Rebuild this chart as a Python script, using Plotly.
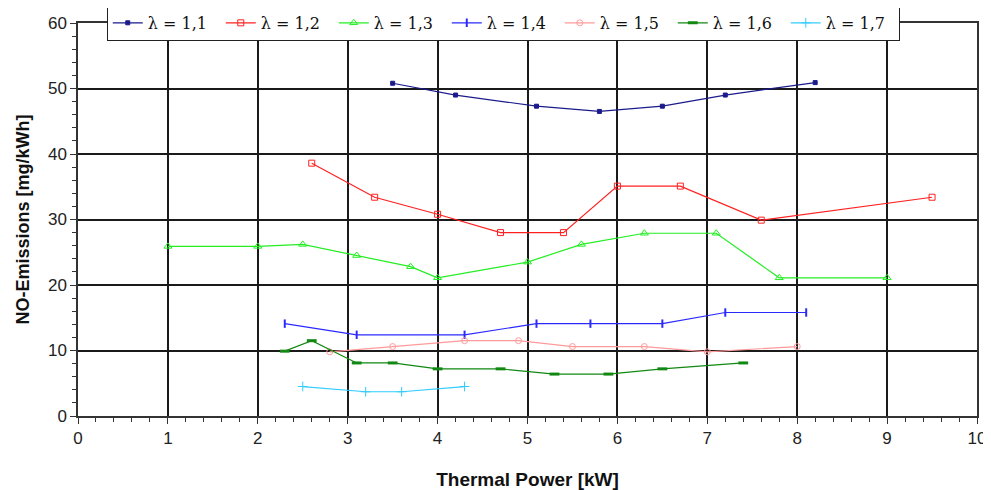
import plotly.graph_objects as go

x11 = [3.5, 4.2, 5.1, 5.8, 6.5, 7.2, 8.2]
y11 = [50.8, 49.0, 47.3, 46.5, 47.3, 49.0, 50.9]

x12 = [2.6, 3.3, 4.0, 4.7, 5.4, 6.0, 6.7, 7.6, 9.5]
y12 = [38.6, 33.4, 30.8, 28.0, 28.0, 35.1, 35.1, 29.9, 33.4]

x13 = [1.0, 2.0, 2.5, 3.1, 3.7, 4.0, 5.0, 5.6, 6.3, 7.1, 7.8, 9.0]
y13 = [25.9, 25.9, 26.2, 24.5, 22.8, 21.1, 23.5, 26.2, 27.9, 27.9, 21.1, 21.1]

x14 = [2.3, 3.1, 4.3, 5.1, 5.7, 6.5, 7.2, 8.1]
y14 = [14.1, 12.4, 12.4, 14.1, 14.1, 14.1, 15.8, 15.8]

x15 = [2.8, 3.5, 4.3, 4.9, 5.5, 6.3, 7.0, 8.0]
y15 = [9.8, 10.6, 11.5, 11.5, 10.6, 10.6, 9.8, 10.6]

x16 = [2.3, 2.6, 3.1, 3.5, 4.0, 4.7, 5.3, 5.9, 6.5, 7.4]
y16 = [9.9, 11.5, 8.1, 8.1, 7.2, 7.2, 6.4, 6.4, 7.2, 8.1]

x17 = [2.5, 3.2, 3.6, 4.3]
y17 = [4.5, 3.7, 3.7, 4.5]

labels = ["λ = 1,1", "λ = 1,2", "λ = 1,3", "λ = 1,4", "λ = 1,5", "λ = 1,6", "λ = 1,7"]
xs = [x11, x12, x13, x14, x15, x16, x17]
ys = [y11, y12, y13, y14, y15, y16, y17]
colors = ["#1a1a8c", "#ff2020", "#22ee22", "#2a2aff", "#ff9a9a", "#118811", "#33ccff"]
symbols = ["square", "square-open", "triangle-up-open", "line-ns-open", "circle-open", "line-ew-open", "cross-thin-open"]
sizes = [4, 6, 7, 6, 6, 7, 7]
mlw = [1, 1, 1, 2, 1, 3, 1]

fig = go.Figure()
for xv, yv, lab, c, s, sz, lw in zip(xs, ys, labels, colors, symbols, sizes, mlw):
    fig.add_trace(go.Scatter(
        x=xv, y=yv, name=lab, mode="lines+markers",
        line=dict(color=c, width=1.2),
        marker=dict(symbol=s, size=sz, color=c, line=dict(color=c, width=lw)),
    ))

axis_font = dict(family="Liberation Sans Narrow, Arial Narrow, Liberation Sans, sans-serif", size=17, color="#222")
fig.update_layout(
    width=983, height=482,
    margin=dict(l=70, r=14, t=15, b=74, autoexpand=False),
    paper_bgcolor="white", plot_bgcolor="white",
    showlegend=True,
    legend=dict(
        orientation="h", x=0.032, y=1.046, xanchor="left", yanchor="top",
        bgcolor="white", bordercolor="#222", borderwidth=1,
        font=dict(family="DejaVu Serif", size=16, color="#111"),
        entrywidth=68, entrywidthmode="pixels",
        tracegroupgap=0, itemwidth=30,
    ),
)
fig.update_xaxes(
    range=[0, 10], dtick=1, tick0=0, automargin=False,
    showgrid=True, gridcolor="#1a1a1a", gridwidth=1.5,
    showline=True, linecolor="#333", linewidth=1.5, mirror=True,
    ticks="outside", ticklen=6, tickcolor="#333", tickwidth=1,
    minor=dict(dtick=0.2, ticks="outside", ticklen=4, tickcolor="#333", showgrid=False),
    tickfont=axis_font, zeroline=False,
    title=dict(text="<b>Thermal Power [kW]</b>", font=dict(family="Liberation Sans, Arial, sans-serif", size=19, color="#111"), standoff=29),
)
fig.update_yaxes(
    range=[0, 60], dtick=10, tick0=0, automargin=False,
    showgrid=True, gridcolor="#1a1a1a", gridwidth=1.5,
    showline=True, linecolor="#333", linewidth=1.5, mirror=True,
    ticks="outside", ticklen=6, tickcolor="#333", tickwidth=1,
    minor=dict(dtick=2, ticks="outside", ticklen=4, tickcolor="#333", showgrid=False),
    tickfont=axis_font, zeroline=False,
    title=dict(text="<b>NO-Emissions [mg/kWh]</b>", font=dict(family="Liberation Sans, Arial, sans-serif", size=18, color="#111"), standoff=14),
)
fig.write_html("out.html")
